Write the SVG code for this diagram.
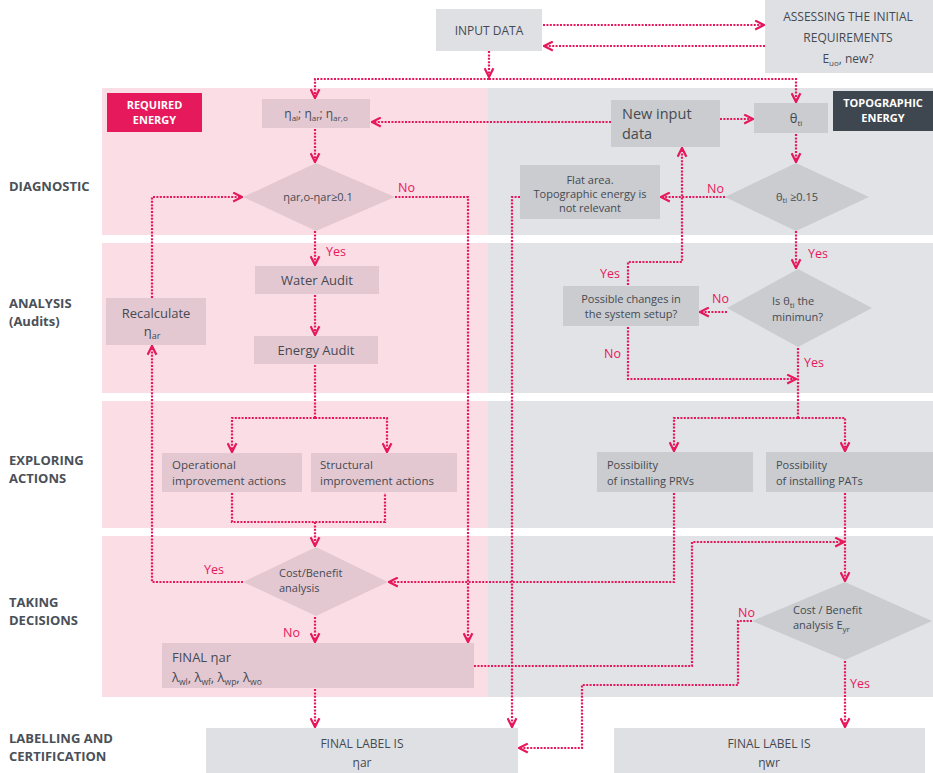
<svg xmlns="http://www.w3.org/2000/svg" width="933" height="773" viewBox="0 0 933 773">
<defs>
<style>
text{font-family:"Open Sans","DejaVu Sans",sans-serif;fill:#454a52;}
.row{font-size:13px;font-weight:bold;fill:#4a5058;}
.t12{font-size:12px;}
.t11{font-size:11px;}
.t13{font-size:13px;}
.lab{font-size:12.5px;fill:#e6185b;}
.hdr{font-size:11px;font-weight:bold;fill:#ffffff;}
.pk{fill:#fbdde6;}
.gy{fill:#e1e3e6;}
.pbox{fill:#e3c8d2;}
.gbox{fill:#cacccf;}
.wbox{fill:#dfe0e3;}
.con path{fill:none;stroke:#e6185b;stroke-width:2.2;stroke-dasharray:2 1.4;}
.arr path{marker-end:url(#ah);}
</style>
<marker id="ah" viewBox="0 0 10 10" refX="9" refY="5" markerWidth="11" markerHeight="11" markerUnits="userSpaceOnUse" orient="auto">
<path d="M1,1 L9,5 L1,9" fill="none" stroke="#e6185b" stroke-width="2" stroke-dasharray="none"/>
</marker>
</defs>
<rect width="933" height="773" fill="#ffffff"/>
<g id="bands">
<rect class="pk" x="102" y="88" width="386" height="147"/>
<rect class="pk" x="102" y="243" width="386" height="150"/>
<rect class="pk" x="102" y="401" width="386" height="127"/>
<rect class="pk" x="102" y="536" width="386" height="161"/>
<rect class="gy" x="488" y="88" width="445" height="147"/>
<rect class="gy" x="488" y="243" width="445" height="150"/>
<rect class="gy" x="488" y="401" width="445" height="127"/>
<rect class="gy" x="488" y="536" width="445" height="161"/>
</g>
<g id="row-labels">
<text class="row" x="9" y="191">DIAGNOSTIC</text>
<text class="row" x="9" y="308">ANALYSIS</text>
<text class="row" x="9" y="326">(Audits)</text>
<text class="row" x="9" y="465">EXPLORING</text>
<text class="row" x="9" y="483">ACTIONS</text>
<text class="row" x="9" y="607">TAKING</text>
<text class="row" x="9" y="625">DECISIONS</text>
<text class="row" x="9" y="743">LABELLING AND</text>
<text class="row" x="9" y="761">CERTIFICATION</text>
</g>
<g id="required-energy">
<rect x="107" y="93" width="95" height="39" fill="#e5195b"/>
<text class="hdr" x="154.5" y="109" text-anchor="middle">REQUIRED</text>
<text class="hdr" x="154.5" y="124" text-anchor="middle">ENERGY</text>
</g>
<g id="topographic-energy">
<rect x="833" y="91" width="100" height="40" fill="#3e4650"/>
<text class="hdr" x="883" y="107" text-anchor="middle">TOPOGRAPHIC</text>
<text class="hdr" x="883" y="122" text-anchor="middle">ENERGY</text>
</g>
<g id="input-data">
<rect class="wbox" x="436" y="9" width="106" height="42"/>
<text class="t12" x="489" y="35" text-anchor="middle">INPUT DATA</text>
</g>
<g id="assessing">
<rect class="wbox" x="765" y="0" width="168" height="73"/>
<text class="t12" x="848" y="21" text-anchor="middle">ASSESSING THE INITIAL</text>
<text class="t12" x="848" y="42" text-anchor="middle">REQUIREMENTS</text>
<text class="t12" x="848" y="63" text-anchor="middle">E<tspan font-size="8" dy="3">uo</tspan><tspan dy="-3">, new?</tspan></text>
</g>
<g id="eta-box">
<rect class="pbox" x="262" y="99" width="108" height="29"/>
<text class="t12" x="316" y="118" text-anchor="middle">η<tspan font-size="8" dy="3">al</tspan><tspan dy="-3">; η</tspan><tspan font-size="8" dy="3">ar</tspan><tspan dy="-3">; η</tspan><tspan font-size="8" dy="3">ar,o</tspan></text>
</g>
<g id="diag-diamond">
<polygon class="pbox" points="316,163 395,197 316,231 243,197"/>
<text class="t11" x="318" y="201" text-anchor="middle">ηar,o-ηar≥0.1</text>
</g>
<g id="water-audit">
<rect class="pbox" x="255" y="266" width="124" height="28"/>
<text class="t13" x="317" y="285" text-anchor="middle">Water Audit</text>
</g>
<g id="energy-audit">
<rect class="pbox" x="254" y="336" width="124" height="28"/>
<text class="t13" x="316" y="355" text-anchor="middle">Energy Audit</text>
</g>
<g id="recalculate">
<rect class="pbox" x="106" y="298" width="100" height="47"/>
<text class="t13" x="156" y="318" text-anchor="middle">Recalculate</text>
<text class="t13" x="152" y="336" text-anchor="middle">η<tspan font-size="9" dy="3">ar</tspan></text>
</g>
<g id="operational">
<rect class="pbox" x="162" y="453" width="140" height="39"/>
<text x="172" y="469" font-size="11.5">Operational</text>
<text x="172" y="485" font-size="11.5">improvement actions</text>
</g>
<g id="structural">
<rect class="pbox" x="311" y="453" width="146" height="39"/>
<text x="320" y="469" font-size="11.5">Structural</text>
<text x="320" y="485" font-size="11.5">improvement actions</text>
</g>
<g id="cost-benefit">
<polygon class="pbox" points="316,547 388,582 316,616 243,582"/>
<text class="t11" x="279" y="577">Cost/Benefit</text>
<text class="t11" x="279" y="592">analysis</text>
</g>
<g id="final-nar">
<rect class="pbox" x="162" y="643" width="312" height="45"/>
<text class="t13" x="172" y="662">FINAL ηar</text>
<text class="t13" x="172" y="682">λ<tspan font-size="8.5" dy="3">wl</tspan><tspan dy="-3">, λ</tspan><tspan font-size="8.5" dy="3">wf</tspan><tspan dy="-3">, λ</tspan><tspan font-size="8.5" dy="3">wp</tspan><tspan dy="-3">, λ</tspan><tspan font-size="8.5" dy="3">wo</tspan></text>
</g>
<g id="new-input">
<rect class="gbox" x="611" y="100" width="109" height="47"/>
<text x="622" y="119" font-size="14.5">New input</text>
<text x="622" y="139" font-size="14.5">data</text>
</g>
<g id="theta-box">
<rect class="gbox" x="754" y="103" width="74" height="30"/>
<text class="t13" x="796" y="123" text-anchor="middle">θ<tspan font-size="8" dy="3">ti</tspan></text>
</g>
<g id="theta-diamond">
<polygon class="gbox" points="796,163 869,197 796,231 725,197"/>
<text class="t11" x="797" y="201" text-anchor="middle">θ<tspan font-size="7.5" dy="2">ti</tspan><tspan dy="-2"> ≥0.15</tspan></text>
</g>
<g id="flat-area">
<rect class="gbox" x="520" y="165" width="140" height="54"/>
<text class="t11" x="590" y="184" text-anchor="middle">Flat area.</text>
<text class="t11" x="590" y="198" text-anchor="middle">Topographic energy is</text>
<text class="t11" x="590" y="212" text-anchor="middle">not relevant</text>
</g>
<g id="is-minimum">
<polygon class="gbox" points="798,269 872,308 798,347 727,308"/>
<text class="t11" x="772" y="305">Is θ<tspan font-size="8" dy="3">ti</tspan><tspan dy="-3"> the</tspan></text>
<text class="t11" x="772" y="321">minimun?</text>
</g>
<g id="possible-changes">
<rect class="gbox" x="563" y="286" width="136" height="40"/>
<text class="t11" x="631" y="303" text-anchor="middle">Possible changes in</text>
<text class="t11" x="631" y="318" text-anchor="middle">the system setup?</text>
</g>
<g id="prvs">
<rect class="gbox" x="597" y="452" width="156" height="40"/>
<text class="t11" x="607" y="469">Possibility</text>
<text class="t11" x="607" y="485">of installing PRVs</text>
</g>
<g id="pats">
<rect class="gbox" x="766" y="452" width="167" height="40"/>
<text class="t11" x="776" y="469">Possibility</text>
<text class="t11" x="776" y="485">of installing PATs</text>
</g>
<g id="cost-benefit-eyr">
<polygon class="gbox" points="845,582 932,621 845,660 752,621"/>
<text class="t11" x="793" y="614">Cost / Benefit</text>
<text class="t11" x="793" y="629">analysis E<tspan font-size="8" dy="3">yr</tspan></text>
</g>
<g id="final-label-nar">
<rect class="wbox" x="206" y="728" width="312" height="45"/>
<text class="t12" x="362" y="748" text-anchor="middle">FINAL LABEL IS</text>
<text class="t12" x="362" y="767" text-anchor="middle">ηar</text>
</g>
<g id="final-label-nwr">
<rect class="wbox" x="614" y="728" width="311" height="45"/>
<text class="t12" x="769" y="748" text-anchor="middle">FINAL LABEL IS</text>
<text class="t12" x="769" y="767" text-anchor="middle">ηwr</text>
</g>
<g id="connectors" class="con">
<g class="arr">
<path d="M543,25 H764"/>
<path d="M765,46 H544"/>
<path d="M489,51 V77"/>
<path d="M489,79 H315 V98"/>
<path d="M489,79 H796 V102"/>
<path d="M611,122 H372"/>
<path d="M720,119 H753"/>
<path d="M315,129 V162"/>
<path d="M796,134 V162"/>
<path d="M395,197 H468 V642"/>
<path d="M315,231 V265"/>
<path d="M315,295 V335"/>
<path d="M315,418 H232 V452"/>
<path d="M315,418 H387 V452"/>
<path d="M315,522 V546"/>
<path d="M243,582 H152 V346"/>
<path d="M152,298 V197 H242"/>
<path d="M315,617 V642"/>
<path d="M315,689 V727"/>
<path d="M725,197 H661"/>
<path d="M520,197 H512 V727"/>
<path d="M796,231 V268"/>
<path d="M727,312 H700"/>
<path d="M628,285 V262 H682 V148"/>
<path d="M628,327 V379 H796"/>
<path d="M798,418 H674 V451"/>
<path d="M798,418 H845 V451"/>
<path d="M674,493 V582 H389"/>
<path d="M845,493 V581"/>
<path d="M474,666 H692 V542 H844"/>
<path d="M752,621 H738 V685 H582 V748 H519"/>
<path d="M845,661 V727"/>
</g>
<path d="M315,365 V418"/>
<path d="M232,493 V522 H385 V493"/>
<path d="M798,348 V418"/>
</g>
<g id="connector-labels">
<text class="lab" x="398" y="192">No</text>
<text class="lab" x="326" y="256">Yes</text>
<text class="lab" x="204" y="574">Yes</text>
<text class="lab" x="283" y="637">No</text>
<text class="lab" x="707" y="193">No</text>
<text class="lab" x="808" y="258">Yes</text>
<text class="lab" x="600" y="278">Yes</text>
<text class="lab" x="712" y="303">No</text>
<text class="lab" x="604" y="358">No</text>
<text class="lab" x="804" y="367">Yes</text>
<text class="lab" x="738" y="617">No</text>
<text class="lab" x="850" y="688">Yes</text>
</g>
</svg>
